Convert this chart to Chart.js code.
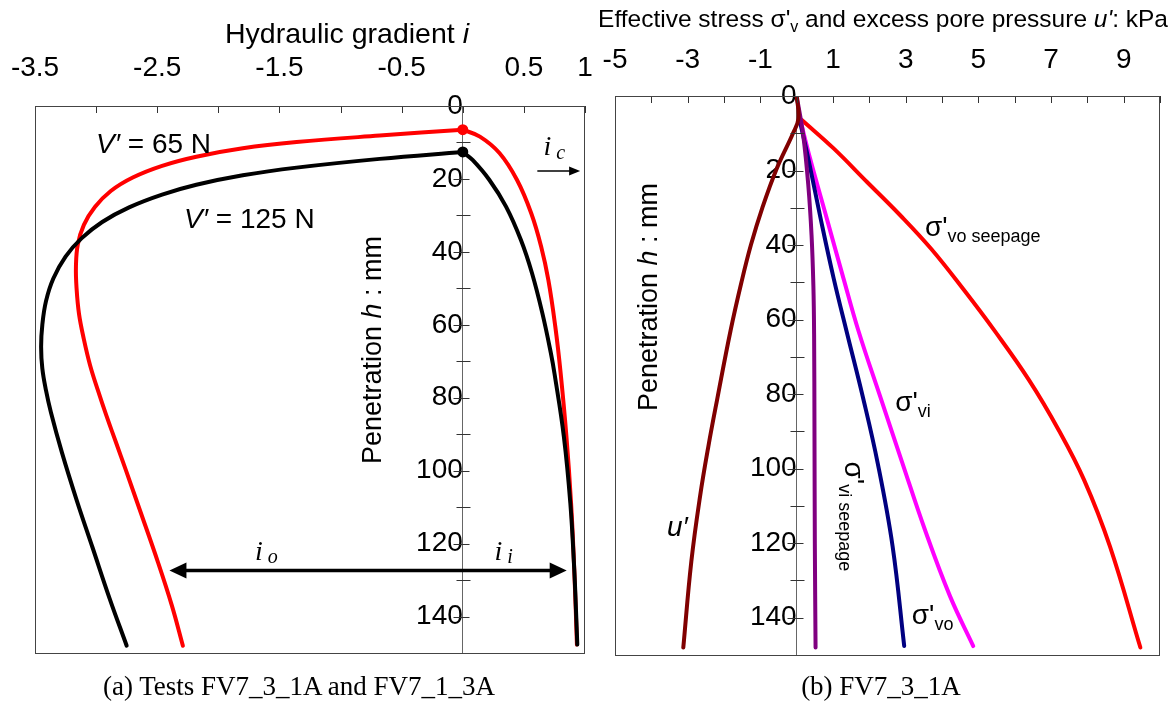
<!DOCTYPE html>
<html>
<head>
<meta charset="utf-8">
<script src="https://cdn.jsdelivr.net/npm/chart.js@4.4.1/dist/chart.umd.min.js"></script>
<style>
  html, body { margin: 0; padding: 0; background: #fff; }
  body { width: 1174px; height: 704px; position: relative; overflow: hidden; }
  canvas { position: absolute; top: 0; }
  #gradChart { left: 0; }
  #stressChart { left: 590px; }
  .caption {
    position: absolute; top: 671px; line-height: 32px;
    font: 27px "Liberation Serif", "Times New Roman", serif;
    transform: translateX(-50%); white-space: nowrap; color: #000;
  }
</style>
</head>
<body>
<canvas id="gradChart" width="600" height="704"></canvas>
<canvas id="stressChart" width="584" height="704"></canvas>
<div class="caption" style="left:299px">(a) Tests FV7_3_1A and FV7_1_3A</div>
<div class="caption" style="left:881px">(b) FV7_3_1A</div>
<script>
// tick labels
const gradLabels = [-3.5, -2.5, -1.5, -0.5, 0.5, 1];
const stressLabels = [-5, -3, -1, 1, 3, 5, 7, 9];
const depthLabels = [0, 20, 40, 60, 80, 100, 120, 140];

// (a) hydraulic gradient i against penetration h (mm)
// outlet side (negative i), V' = 65 N
const h65Out = [6.5, 8.1, 9.9, 11.6, 13.9, 16.4, 19.6, 23.3, 27.7, 32.6, 38, 44, 50, 57, 64, 71, 78, 85, 92, 100, 111, 125, 137, 148];
const i65Out = [0, -0.68, -1.36, -1.8, -2.18, -2.46, -2.70, -2.88, -3.01, -3.10, -3.15, -3.165, -3.16, -3.14, -3.10, -3.05, -2.985, -2.915, -2.84, -2.755, -2.64, -2.495, -2.38, -2.29];
// inlet side (positive i), V' = 65 N
const h65In = [6.5, 8.4, 12.9, 20.3, 29.4, 38.5, 47.7, 60.5, 73, 90.6, 108.9, 127, 147.7];
const i65In = [0, 0.14, 0.30, 0.444, 0.56, 0.641, 0.70, 0.757, 0.80, 0.848, 0.886, 0.912, 0.934];
// outlet side, V' = 125 N
const h125Out = [12.6, 14.5, 16.9, 19.0, 21.6, 24.3, 27.8, 31.8, 36.3, 41.3, 47.3, 53.5, 60, 66, 72, 78, 84, 95, 108, 121, 135, 148];
const i125Out = [0, -0.68, -1.36, -1.8, -2.18, -2.46, -2.73, -2.95, -3.12, -3.25, -3.35, -3.41, -3.44, -3.45, -3.44, -3.41, -3.37, -3.28, -3.16, -3.03, -2.89, -2.75];
// inlet side, V' = 125 N
const h125In = [12.6, 14.8, 20.3, 27.6, 36.7, 45.8, 56.8, 67.8, 73.5, 90.6, 108.9, 127, 138, 147.7];
const i125In = [0, 0.08, 0.218, 0.354, 0.475, 0.566, 0.651, 0.721, 0.751, 0.827, 0.88, 0.912, 0.926, 0.937];

// (b) stresses and pore pressure (kPa) against penetration h (mm)
const hPore = [0, 6, 10, 19.5, 30, 40, 50, 63, 81, 94, 107.5, 125, 148];
const uPore = [0, 0.05, -0.1, -0.55, -0.945, -1.26, -1.52, -1.82, -2.18, -2.43, -2.66, -2.90, -3.12];
const hViSeep = [0, 10.5, 23.9, 37.4, 50.9, 63.9, 89.6, 120, 148];
const sViSeep = [0, 0.18, 0.32, 0.41, 0.46, 0.48, 0.49, 0.5, 0.52];
const hVo = [6, 16.8, 32.9, 49, 63.4, 80.7, 98.5, 120.8, 147.6];
const sVo = [0.07, 0.32, 0.66, 1.02, 1.38, 1.82, 2.23, 2.64, 2.96];
const hVi = [6, 16.8, 32.9, 49, 63, 80.7, 98.5, 116.4, 134.2, 147.6];
const sVi = [0.09, 0.37, 0.83, 1.29, 1.70, 2.30, 2.91, 3.53, 4.22, 4.86];
const hVoSeep = [6.5, 14, 23, 32, 41, 52, 62.9, 76.3, 89.6, 103, 120.8, 148];
const sVoSeep = [0.15, 1.01, 1.93, 2.85, 3.7, 4.6, 5.44, 6.40, 7.21, 7.91, 8.62, 9.46];

const SANS = '"Liberation Sans", Arial, sans-serif';
const SERIF = '"Liberation Serif", "Times New Roman", serif';
const sans = (size, style) => (style ? style + ' ' : '') + size + 'px ' + SANS;
const serif = (size, style) => (style ? style + ' ' : '') + size + 'px ' + SERIF;

function pairs(xs, ys) {
    return xs.map((v, k) => ({ x: v, y: ys[k] }));
}

function curve(label, xs, ys, color, extra) {
    return Object.assign({
        label: label,
        data: pairs(xs, ys),
        borderColor: color,
        backgroundColor: color,
        borderWidth: 4,
        pointRadius: 0,
        fill: false,
        tension: 0.4,
        borderCapStyle: 'round',
        borderJoinStyle: 'round'
    }, extra || {});
}

// text made of runs with their own font and baseline shift
function drawRuns(ctx, runs, x, y, align) {
    let w = 0;
    for (const r of runs) { ctx.font = r.f; w += ctx.measureText(r.t).width; }
    let cx = align === 'center' ? x - w / 2 : x;
    ctx.textAlign = 'left';
    ctx.textBaseline = 'alphabetic';
    for (const r of runs) {
        ctx.font = r.f;
        ctx.fillText(r.t, cx, y + (r.dy || 0));
        cx += ctx.measureText(r.t).width;
    }
}

function arrowHead(ctx, x, y, dir, len, half) {
    ctx.beginPath();
    ctx.moveTo(x, y);
    ctx.lineTo(x - dir * len, y - half);
    ctx.lineTo(x - dir * len, y + half);
    ctx.closePath();
    ctx.fill();
}

// box around the plot, inward ticks on top axis, crossing ticks on the depth axis
const framePlugin = {
    id: 'frame',
    afterDatasetsDraw(chart) {
        const { ctx, chartArea: a, scales: { x, y } } = chart;
        ctx.save();
        ctx.strokeStyle = '#333';
        ctx.lineWidth = 1;
        ctx.beginPath();
        x.ticks.forEach(t => {
            const px = Math.round(x.getPixelForValue(t.value)) + 0.5;
            ctx.moveTo(px, a.top);
            ctx.lineTo(px, a.top + 7);
        });
        const x0 = Math.round(x.getPixelForValue(0)) + 0.5;
        y.ticks.forEach(t => {
            const py = Math.round(y.getPixelForValue(t.value)) + 0.5;
            const major = depthLabels.includes(t.value);
            ctx.moveTo(x0 - (major ? 10 : 7), py);
            ctx.lineTo(x0 + (major ? 6 : 7), py);
        });
        ctx.stroke();
        ctx.strokeStyle = '#444';
        ctx.strokeRect(Math.round(a.left) + 0.5, Math.round(a.top) + 0.5, Math.round(a.width) - 1, Math.round(a.height));
        ctx.restore();
    }
};

function scalesFor(xMin, xMax, step, labels, axisHeight, labelPad) {
    return {
        x: {
            type: 'linear', position: 'top', min: xMin, max: xMax,
            ticks: {
                stepSize: step, autoSkip: false, maxRotation: 0, padding: labelPad,
                color: '#000', font: { family: SANS, size: 28 },
                callback: v => labels.includes(v) ? String(v) : ''
            },
            grid: { display: false, drawTicks: false },
            border: { display: false },
            afterFit: s => {
                s.height = axisHeight;
                s.paddingLeft = 0;
                s.paddingRight = 0;
            }
        },
        y: {
            type: 'linear', position: { x: 0 }, reverse: true, min: 0, max: 150,
            ticks: {
                stepSize: 10, autoSkip: false, padding: 22,
                color: '#000', font: { family: SANS, size: 28 },
                callback: v => depthLabels.includes(v) ? String(v) : ''
            },
            grid: { display: false, drawTicks: false },
            border: { display: true, color: '#666', width: 1 }
        }
    };
}

const baseOptions = {
    responsive: false,
    animation: false,
    indexAxis: 'y',
    events: [],
    plugins: { legend: { display: false }, tooltip: { enabled: false } }
};

// ---------- (a) hydraulic gradient ----------
const gradNotes = {
    id: 'gradNotes',
    afterDraw(chart) {
        const { ctx, scales: { x, y } } = chart;
        const px = v => x.getPixelForValue(v), py = v => y.getPixelForValue(v);
        ctx.save();
        ctx.fillStyle = '#000';
        ctx.strokeStyle = '#000';

        drawRuns(ctx, [{ t: 'Hydraulic gradient ', f: sans(28.5) }, { t: 'i', f: sans(28.5, 'italic') }], 347, 43, 'center');

        drawRuns(ctx, [{ t: 'V′', f: sans(28, 'italic') }, { t: ' = 65 N', f: sans(28) }], px(-3.0), py(12.8));
        drawRuns(ctx, [{ t: 'V′', f: sans(28, 'italic') }, { t: ' = 125 N', f: sans(28) }], px(-2.28), py(33.4));

        // critical gradient arrow
        drawRuns(ctx, [{ t: 'i', f: serif(28, 'italic') }, { t: ' c', f: serif(20, 'italic'), dy: 4 }], px(0.66), py(13.4));
        ctx.lineWidth = 1.5;
        ctx.beginPath();
        ctx.moveTo(px(0.61), py(17.8));
        ctx.lineTo(px(0.96) - 8, py(17.8));
        ctx.stroke();
        arrowHead(ctx, px(0.96), py(17.8), 1, 11, 4.5);

        // outlet / inlet gradient span
        const ya = py(127.4), xl = px(-2.40), xr = px(0.85);
        ctx.lineWidth = 3.5;
        ctx.beginPath();
        ctx.moveTo(xl + 12, ya);
        ctx.lineTo(xr - 12, ya);
        ctx.stroke();
        arrowHead(ctx, xl, ya, -1, 17, 8);
        arrowHead(ctx, xr, ya, 1, 17, 8);
        drawRuns(ctx, [{ t: 'i', f: serif(28, 'italic') }, { t: ' o', f: serif(20, 'italic'), dy: 3 }], px(-1.70), py(124.4));
        drawRuns(ctx, [{ t: 'i', f: serif(28, 'italic') }, { t: ' i', f: serif(20, 'italic'), dy: 3 }], px(0.26), py(124.4));

        ctx.translate(381, 350);
        ctx.rotate(-Math.PI / 2);
        drawRuns(ctx, [{ t: 'Penetration ', f: sans(27) }, { t: 'h', f: sans(27, 'italic') }, { t: ' : mm', f: sans(27) }], 0, 0, 'center');
        ctx.restore();
    }
};

new Chart(document.getElementById('gradChart'), {
    type: 'line',
    data: {
        datasets: [
            curve('125 N inlet', i125In, h125In, '#000', { pointRadius: c => c.dataIndex === 0 ? 3.5 : 0 }),
            curve('125 N outlet', i125Out, h125Out, '#000'),
            curve('65 N inlet', i65In, h65In, '#ff0000', { pointRadius: c => c.dataIndex === 0 ? 3.5 : 0 }),
            curve('65 N outlet', i65Out, h65Out, '#ff0000')
        ]
    },
    options: Object.assign({}, baseOptions, {
        layout: { padding: { top: 0, left: 35, right: 15, bottom: 51 } },
        scales: scalesFor(-3.5, 1, 0.5, gradLabels, 106, 21)
    }),
    plugins: [framePlugin, gradNotes]
});

// ---------- (b) effective stress and excess pore pressure ----------
const stressNotes = {
    id: 'stressNotes',
    afterDraw(chart) {
        const { ctx, scales: { x, y } } = chart;
        const px = v => x.getPixelForValue(v), py = v => y.getPixelForValue(v);
        ctx.save();
        ctx.fillStyle = '#000';

        drawRuns(ctx, [
            { t: 'Effective stress σ\'', f: sans(24.5) },
            { t: 'v', f: sans(16), dy: 5 },
            { t: ' and excess pore pressure ', f: sans(24.5) },
            { t: 'u\'', f: sans(24.5, 'italic') },
            { t: ': kPa', f: sans(24.5) }
        ], 293, 27, 'center');

        drawRuns(ctx, [{ t: 'σ\'', f: sans(28) }, { t: 'vo seepage', f: sans(18), dy: 6 }], px(3.53), py(37.5));
        drawRuns(ctx, [{ t: 'σ\'', f: sans(28) }, { t: 'vi', f: sans(18), dy: 6 }], px(2.71), py(84.5));
        drawRuns(ctx, [{ t: 'σ\'', f: sans(28) }, { t: 'vo', f: sans(18), dy: 6 }], px(3.17), py(141.6));
        drawRuns(ctx, [{ t: 'u′', f: sans(28, 'italic') }], px(-3.57), py(118.2));

        ctx.save();
        ctx.translate(px(1.33), py(98.1));
        ctx.rotate(Math.PI / 2);
        drawRuns(ctx, [{ t: 'σ\'', f: sans(28) }, { t: 'vi seepage', f: sans(18), dy: 6 }], 0, 0);
        ctx.restore();

        ctx.translate(67, 297);
        ctx.rotate(-Math.PI / 2);
        drawRuns(ctx, [{ t: 'Penetration ', f: sans(27) }, { t: 'h', f: sans(27, 'italic') }, { t: ' : mm', f: sans(27) }], 0, 0, 'center');
        ctx.restore();
    }
};

new Chart(document.getElementById('stressChart'), {
    type: 'line',
    data: {
        datasets: [
            curve("u'", uPore, hPore, '#800000'),
            curve("σ'vi seepage", sViSeep, hViSeep, '#800080'),
            curve("σ'vo", sVo, hVo, '#000080'),
            curve("σ'vi", sVi, hVi, '#ff00ff'),
            curve("σ'vo seepage", sVoSeep, hVoSeep, '#ff0000')
        ]
    },
    options: Object.assign({}, baseOptions, {
        layout: { padding: { top: 0, left: 25, right: 14, bottom: 49 } },
        scales: scalesFor(-5, 10, 1, stressLabels, 96, 19)
    }),
    plugins: [framePlugin, stressNotes]
});
</script>
</body>
</html>
